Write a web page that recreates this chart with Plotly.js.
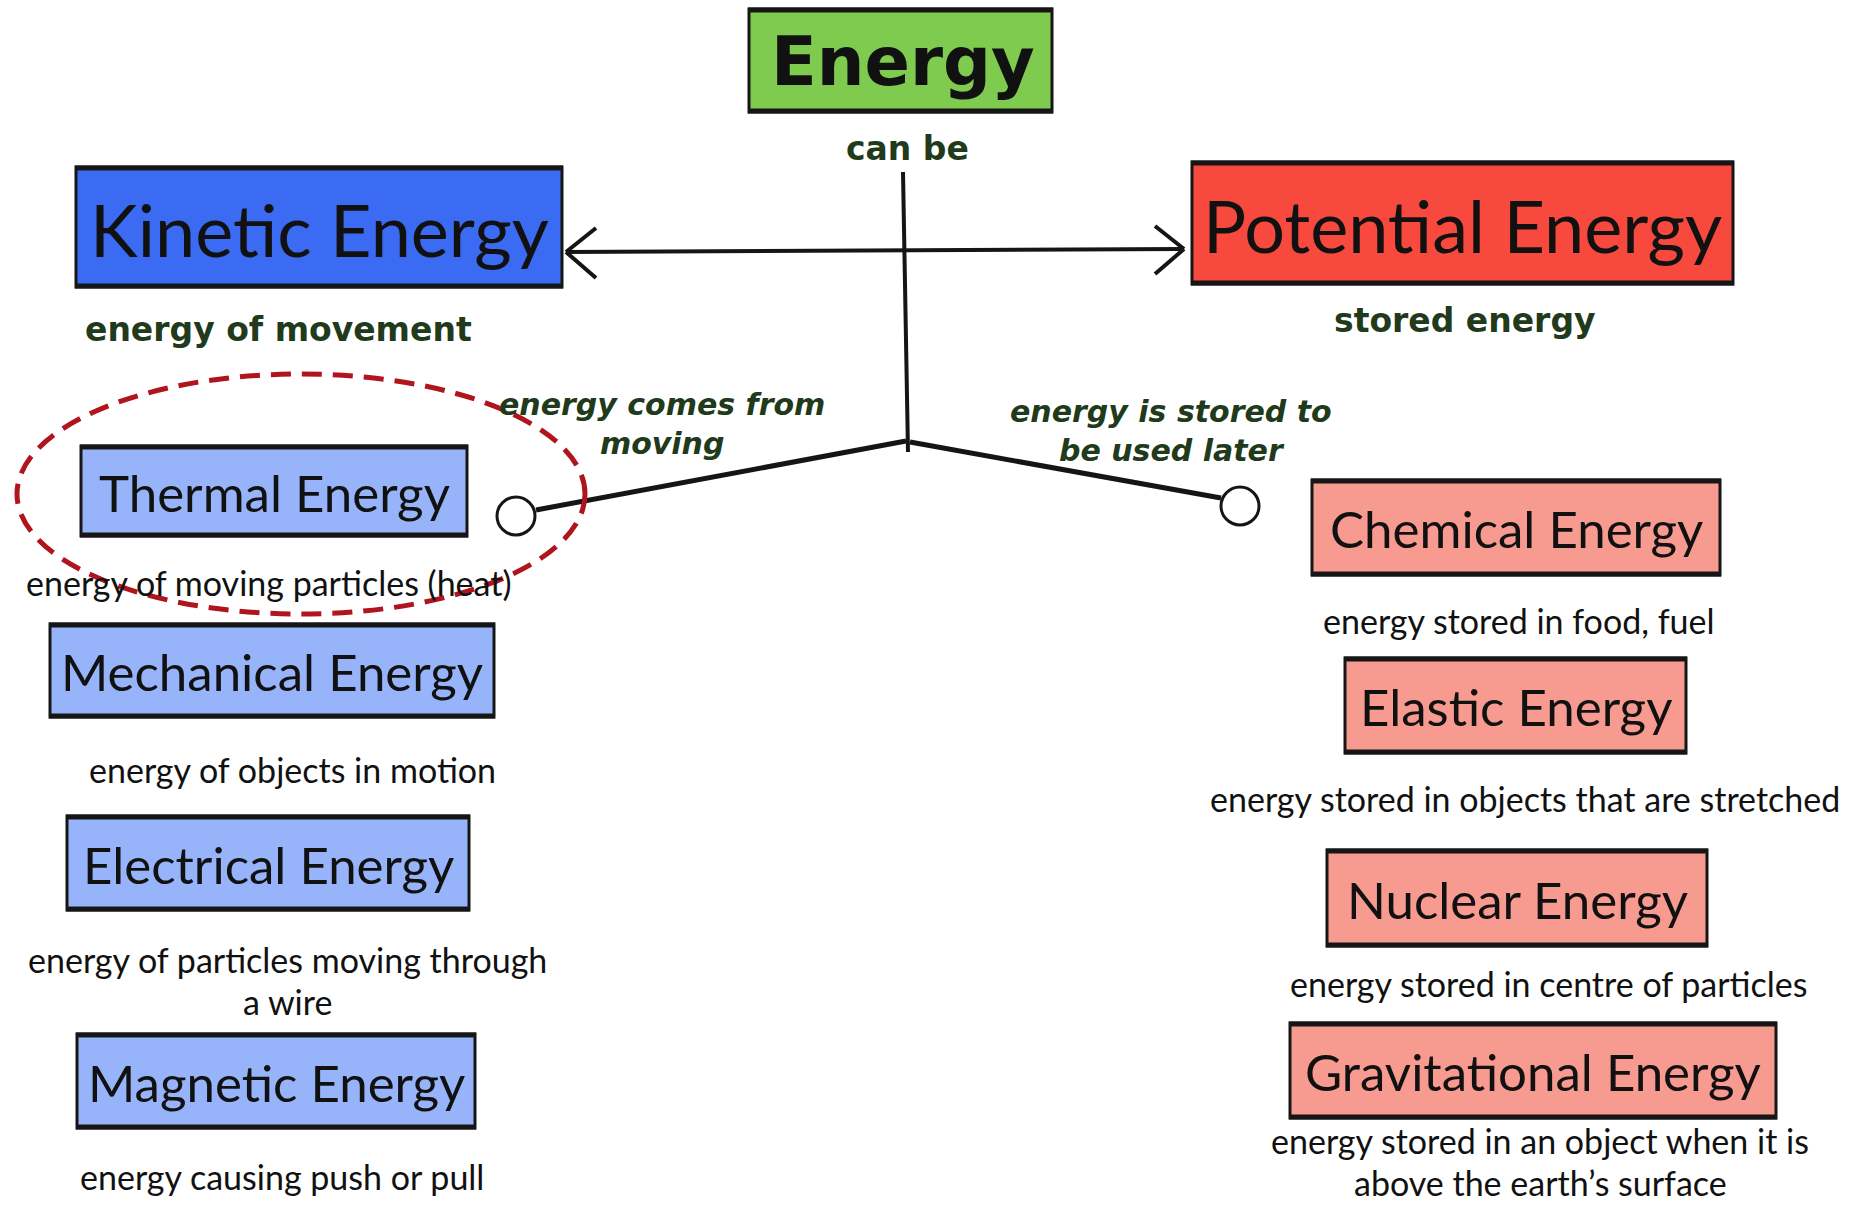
<!DOCTYPE html>
<html>
<head>
<meta charset="utf-8">
<script src="https://cdn.plot.ly/plotly-3.0.1.min.js"></script>
<style>html,body{margin:0;padding:0;background:#fff;} #chart{width:1857px;height:1207px;}</style>
</head>
<body>
<div id="chart"></div>
<script>
// ---------- content (data) ----------
const rootLabel = "Energy";
const rootLink = "can be";
const mainTypes = ["Kinetic Energy", "Potential Energy"];
const mainDescs = ["energy of movement", "stored energy"];
const branchLabels = ["energy comes from<br>moving", "energy is stored to<br>be used later"];
const kineticTypes = ["Thermal Energy", "Mechanical Energy", "Electrical Energy", "Magnetic Energy"];
const kineticDescs = [
  "energy of moving particles (heat)",
  "energy of objects in motion",
  "energy of particles moving through<br>a wire",
  "energy causing push or pull"
];
const potentialTypes = ["Chemical Energy", "Elastic Energy", "Nuclear Energy", "Gravitational Energy"];
const potentialDescs = [
  "energy stored in food, fuel",
  "energy stored in objects that are stretched",
  "energy stored in centre of particles",
  "energy stored in an object when it is<br>above the earth\u2019s surface"
];
const highlighted = "Thermal Energy";

// ---------- layout geometry (pixel coordinates on the canvas axes) ----------
const rootBox = {x0: 749, x1: 1052, y0: 9, y1: 112};
const mainBoxes = [
  {x0: 76, x1: 562, y0: 167, y1: 287},
  {x0: 1192, x1: 1733, y0: 162, y1: 284}
];
const mainDescPos = [[278, 329], [1465, 320]];
const kinBoxes = [
  {x0: 81, x1: 467, y0: 446, y1: 536},
  {x0: 50, x1: 494, y0: 624, y1: 717},
  {x0: 67, x1: 469, y0: 816, y1: 910},
  {x0: 77, x1: 475, y0: 1034, y1: 1128}
];
// [center x, y of first line]
const kinDescPos = [[269, 582], [292, 769], [287, 959], [282, 1176]];
const potBoxes = [
  {x0: 1312, x1: 1720, y0: 480, y1: 575},
  {x0: 1345, x1: 1686, y0: 658, y1: 753},
  {x0: 1327, x1: 1707, y0: 850, y1: 946},
  {x0: 1290, x1: 1776, y0: 1023, y1: 1118}
];
const potDescPos = [[1518, 620], [1525, 798], [1549, 983], [1540, 1140]];
const branchPos = [[662, 424], [1171, 431]];
const descLineGap = 42;

// ---------- styles ----------
const C = {
  green: "#7fcb4f", blue: "#3b6bf2", lightBlue: "#97b4fb",
  red: "#f7493e", pink: "#f79a90", darkGreen: "#213a1b",
  ink: "#111111", ring: "#b0141c"
};
const boxFont = "Lato, 'Open Sans', sans-serif";
const labelFont = "'DejaVu Sans', sans-serif";

const shapes = [];
const annotations = [];

function box(b, fill) {
  shapes.push({type: "rect", xref: "x", yref: "y", x0: b.x0, x1: b.x1, y0: b.y0, y1: b.y1,
    fillcolor: fill, line: {color: "#161616", width: 3}, layer: "below"});
  shapes.push({type: "line", xref: "x", yref: "y", x0: b.x0 - 1, x1: b.x1 + 1, y0: b.y0 + 1, y1: b.y0 + 1,
    line: {color: "#161616", width: 5}});
  shapes.push({type: "line", xref: "x", yref: "y", x0: b.x0 - 1, x1: b.x1 + 1, y0: b.y1 - 1, y1: b.y1 - 1,
    line: {color: "#161616", width: 5}});
}
function text(x, y, t, font) {
  annotations.push({xref: "x", yref: "y", x: x, y: y, text: t, showarrow: false,
    xanchor: "center", yanchor: "middle", align: "center", font: font});
}
function descText(x, y, t, font) {
  t.split("<br>").forEach((ln, k) => {
    text(x, y + k * descLineGap, ln, font);
  });
}
function line(x0, y0, x1, y1, w) {
  shapes.push({type: "line", xref: "x", yref: "y", x0: x0, y0: y0, x1: x1, y1: y1,
    line: {color: "#151515", width: w}});
}
function cx(b) { return (b.x0 + b.x1) / 2; }
function cy(b) { return (b.y0 + b.y1) / 2; }

// root
box(rootBox, C.green);
text(cx(rootBox) + 2, cy(rootBox) + 1, rootLabel, {family: labelFont, size: 67, color: C.ink, weight: "bold"});
text(907, 148, rootLink, {family: labelFont, size: 33, color: C.darkGreen, weight: "bold"});

// main boxes
const mainFills = [C.blue, C.red];
mainBoxes.forEach((b, i) => {
  box(b, mainFills[i]);
  text(cx(b), cy(b) + 2, mainTypes[i], {family: boxFont, size: 72, color: C.ink});
  text(mainDescPos[i][0], mainDescPos[i][1], mainDescs[i], {family: labelFont, size: 33, color: C.darkGreen, weight: "bold"});
});

// connectors
line(903, 172, 908, 452, 4);
line(566, 252, 1184, 249, 4);
// chevrons
line(566, 252, 596, 228, 4); line(566, 252, 596, 278, 4);
line(1184, 249, 1155, 226, 4); line(1184, 249, 1155, 274, 4);
// branches
line(906, 441, 536, 510, 5);
line(910, 442, 1221, 498, 5);
shapes.push({type: "circle", xref: "x", yref: "y", x0: 497, x1: 535, y0: 497, y1: 535,
  fillcolor: "#ffffff", line: {color: "#151515", width: 3}});
shapes.push({type: "circle", xref: "x", yref: "y", x0: 1221, x1: 1259, y0: 487, y1: 525,
  fillcolor: "#ffffff", line: {color: "#151515", width: 3}});
branchLabels.forEach((t, i) => {
  text(branchPos[i][0], branchPos[i][1], t,
    {family: labelFont, size: 30, color: C.darkGreen, weight: "bold", style: "italic"});
});

// kinetic sub-types
kineticTypes.forEach((t, i) => {
  const b = kinBoxes[i];
  box(b, C.lightBlue);
  text(cx(b), cy(b) + 1, t, {family: boxFont, size: 51, color: C.ink});
  descText(kinDescPos[i][0], kinDescPos[i][1], kineticDescs[i], {family: boxFont, size: 34, color: C.ink});
});
// potential sub-types
potentialTypes.forEach((t, i) => {
  const b = potBoxes[i];
  box(b, C.pink);
  text(cx(b), cy(b) + 1, t, {family: boxFont, size: 51, color: C.ink});
  descText(potDescPos[i][0], potDescPos[i][1], potentialDescs[i], {family: boxFont, size: 34, color: C.ink});
});

// highlight ring around the highlighted kinetic type
const hi = kinBoxes[kineticTypes.indexOf(highlighted)];
shapes.push({type: "circle", xref: "x", yref: "y", x0: hi.x0 - 64, x1: hi.x1 + 118, y0: hi.y0 - 72, y1: hi.y1 + 78,
  line: {color: C.ring, width: 5, dash: "20px,11px"}, fillcolor: "rgba(0,0,0,0)"});

const layout = {
  width: 1857, height: 1207,
  margin: {l: 0, r: 0, t: 0, b: 0, pad: 0},
  paper_bgcolor: "#ffffff", plot_bgcolor: "#ffffff",
  showlegend: false,
  xaxis: {range: [0, 1857], visible: false, fixedrange: true},
  yaxis: {range: [1207, 0], visible: false, fixedrange: true},
  shapes: shapes, annotations: annotations
};
Plotly.newPlot("chart", [], layout, {staticPlot: true, displayModeBar: false});
</script>
</body>
</html>
